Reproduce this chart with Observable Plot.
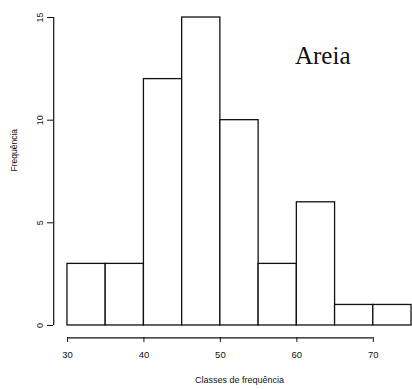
<!DOCTYPE html>
<html>
<head>
<meta charset="utf-8">
<script src="https://cdn.jsdelivr.net/npm/d3@7"></script>
<script src="https://cdn.jsdelivr.net/npm/@observablehq/plot@0.6"></script>
<style>
  html, body { margin: 0; padding: 0; background: #fff; overflow: hidden; }
  #chart svg { overflow: visible; }
</style>
</head>
<body>
<div id="chart"></div>
<script>
// Histogram of sand content (Areia): class edges and counts per class
const binEdges = [30, 35, 40, 45, 50, 55, 60, 65, 70, 75];
const counts = [3, 3, 12, 15, 10, 3, 6, 1, 1];
const xTicks = [30, 40, 50, 60, 70];
const yTicks = [0, 5, 10, 15];
const panelTitle = "Areia";
const xLabel = "Classes de frequência";
const yLabel = "Frequência";

const bins = counts.map((c, i) => ({x1: binEdges[i], x2: binEdges[i + 1], count: c}));

// R-style axes: the plotting region extends 4% beyond the data range
const extend = (a, b) => [a - (b - a) * 0.04, b + (b - a) * 0.04];
const xDomain = extend(binEdges[0], binEdges[binEdges.length - 1]);
const yDomain = extend(0, d3.max(yTicks));

const ink = "#111";
const sans = "'Liberation Sans', Arial, sans-serif";

const chart = Plot.plot({
  width: 412,
  height: 389,
  marginLeft: 53,
  marginRight: 0,
  marginTop: 5,
  marginBottom: 52,
  style: {background: "#fff", fontFamily: sans},
  x: {domain: xDomain, range: [53.2, 424.8]},
  y: {domain: yDomain, range: [337.3, 4.7]},
  marks: [
    Plot.rectY(bins, {x1: "x1", x2: "x2", y: "count", fill: "white", stroke: ink, strokeWidth: 1.3}),
    // detached axis lines spanning the tick range
    Plot.ruleX([xDomain[0]], {y1: yTicks[0], y2: yTicks[yTicks.length - 1], stroke: ink, strokeWidth: 1.2}),
    Plot.ruleY([yDomain[0]], {x1: xTicks[0], x2: xTicks[xTicks.length - 1], stroke: ink, strokeWidth: 1.2}),
    Plot.axisY({ticks: yTicks, tickSize: 6, tickPadding: 5, tickRotate: -90, fontSize: 9, label: null, stroke: ink, fill: ink}),
    Plot.axisX({ticks: xTicks, tickSize: 5, tickPadding: 9, fontSize: 9.5, label: null, stroke: ink, fill: ink}),
    Plot.text([yLabel], {frameAnchor: "left", rotate: -90, dx: -39, fontSize: 8.5, fill: ink}),
    Plot.text([xLabel], {frameAnchor: "bottom", dx: 6.5, dy: 45, fontSize: 9, fill: ink}),
    Plot.text([panelTitle], {frameAnchor: "top-right", textAnchor: "end", dx: -62, dy: 51 - 10, fontSize: 25,
      fontFamily: "'Liberation Serif', 'Times New Roman', serif", fill: ink})
  ]
});

document.getElementById("chart").append(chart);
</script>
</body>
</html>
